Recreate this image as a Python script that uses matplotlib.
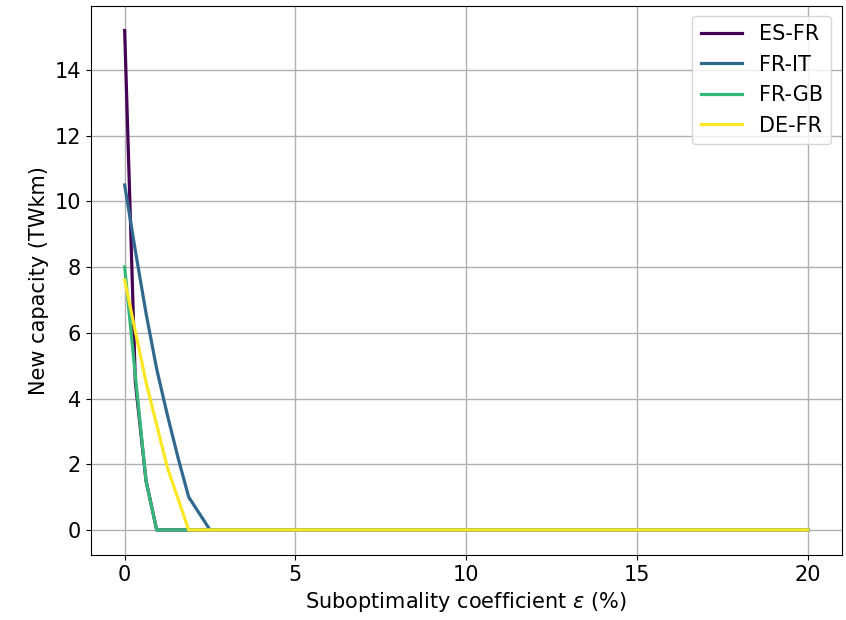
import matplotlib
matplotlib.use("Agg")
import matplotlib.pyplot as plt

# Suboptimality coefficient (%) and new capacity (TWkm) per interconnection
eps = [0, 0.3125, 0.625, 0.9375, 1.25, 1.5625, 1.875, 2.1875, 2.5, 20]
es_fr = [15.2, 4.5, 1.5, 0, 0, 0, 0, 0, 0, 0]
fr_it = [10.5, 8.5, 6.6, 4.9, 3.5, 2.2, 1.0, 0.5, 0, 0]
fr_gb = [8.0, 4.7, 1.5, 0, 0, 0, 0, 0, 0, 0]
de_fr = [7.6, 6.05, 4.5, 3.2, 1.9, 0.95, 0, 0, 0, 0]

labels = ["ES-FR", "FR-IT", "FR-GB", "DE-FR"]
colors = ["#440154", "#31688e", "#35b779", "#fde725"]

plt.rcParams["font.size"] = 15

fig = plt.figure(figsize=(8.46, 6.2), dpi=100)
ax = fig.add_axes([0.107, 0.105, 0.888, 0.886])

for ys, lab, c in zip([es_fr, fr_it, fr_gb, de_fr], labels, colors):
    ax.plot(eps, ys, color=c, lw=2.3, label=lab)

ax.set_xlim(-1, 21)
ax.set_xticks([0, 5, 10, 15, 20])
ax.set_yticks([0, 2, 4, 6, 8, 10, 12, 14])
ax.grid(True, color="#b0b0b0", lw=1)
ax.set_xlabel("Suboptimality coefficient $\\epsilon$ (%)")
ax.set_ylabel("New capacity (TWkm)")
ax.legend(loc="upper right")

plt.savefig("out.png")
plt.close()
